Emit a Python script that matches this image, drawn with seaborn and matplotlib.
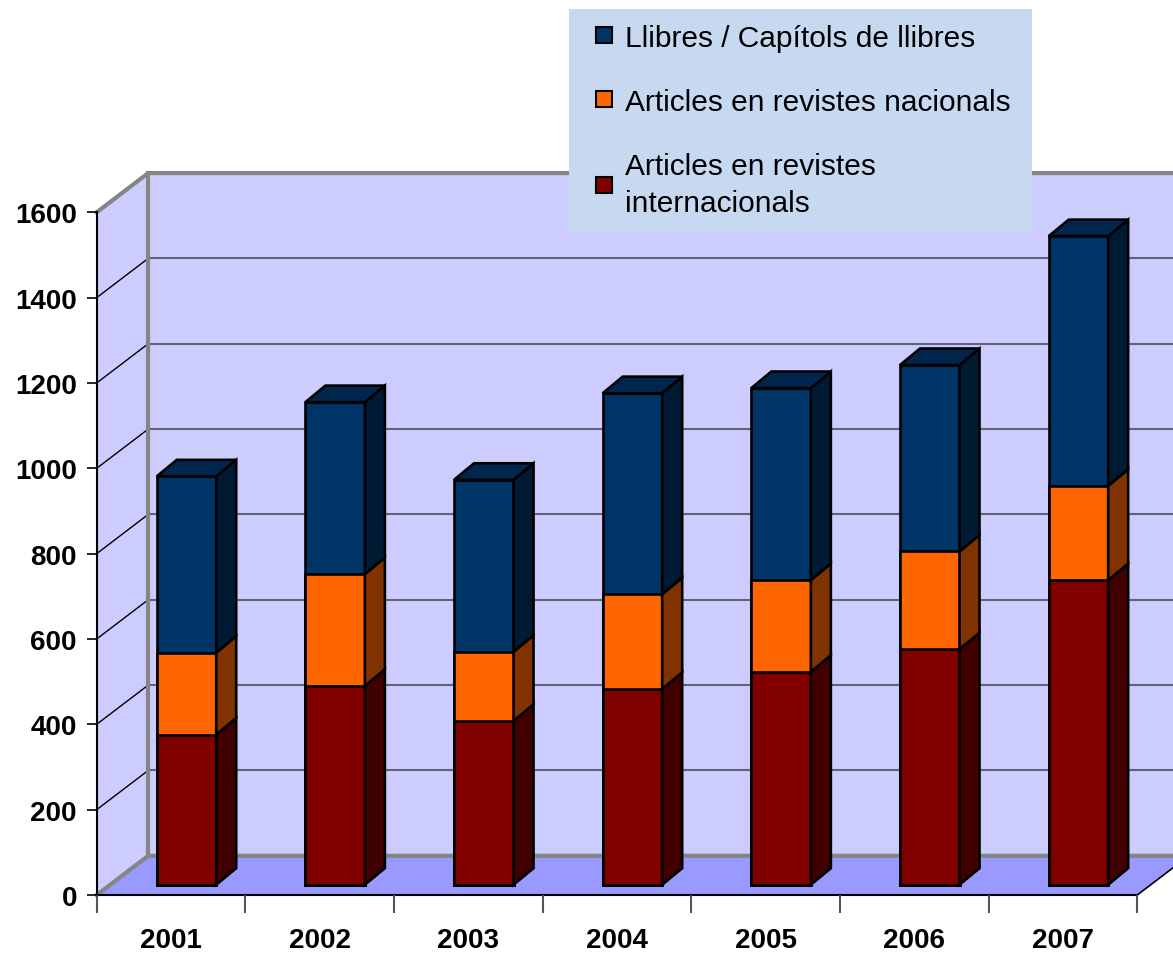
import numpy as np
import pandas as pd
import matplotlib
matplotlib.use("Agg")
import matplotlib.pyplot as plt
import seaborn as sns
from matplotlib.patches import Polygon
from matplotlib.lines import Line2D
from matplotlib.transforms import Affine2D

# ---------------- data ----------------
years = ["2001", "2002", "2003", "2004", "2005", "2006", "2007"]
internacionals = [352, 466, 384, 459, 499, 552, 714]
nacionals = [192, 262, 162, 222, 215, 229, 221]
llibres = [413, 403, 403, 471, 450, 437, 585]
legend_labels = ["Llibres / Capítols de llibres",
                 "Articles en revistes nacionals",
                 "Articles en revistes\ninternacionals"]
yticks = [0, 200, 400, 600, 800, 1000, 1200, 1400, 1600]

# ---------------- style ----------------
front_colors = ["#003366", "#FF6600", "#800000"]   # llibres, nacionals, internacionals
side_colors = ["#001A33", "#803300", "#400000"]
top_color = "#00264D"
wall_color = "#CCCCFF"
floor_color = "#9999FF"
border_gray = "#858585"
grid_color = "#62627A"

plt.rcParams["font.family"] = ["Liberation Sans", "DejaVu Sans"]

W, H = 1173, 954
fig = plt.figure(figsize=(W / 100, H / 100), dpi=100)
fig.patch.set_facecolor("white")
ax = fig.add_axes([96.7 / W, (H - 896) / H, 1040.6 / W, 682.7 / H])
ax.set_facecolor("none")

# projection parameters (data units)
DX, DY = 0.3464, 91.9          # full depth of the walls
SX, SY = 0.104, 24.1           # bar front plane offset
BX, BY = 0.1345, 38.7          # bar depth
BAR_W = 0.4

df = pd.DataFrame({"year": years, "intl": internacionals,
                   "nac": nacionals, "llib": llibres})
df["cum_nac"] = df["intl"] + df["nac"]
df["total"] = df["cum_nac"] + df["llib"]

shift_tr = Affine2D().translate(SX, SY) + ax.transData

layers = [("total", front_colors[0]), ("cum_nac", front_colors[1]), ("intl", front_colors[2])]
bar_layers = []
for col, c in layers:
    n0 = len(ax.patches)
    sns.barplot(data=df, x="year", y=col, color=c, saturation=1, width=BAR_W,
                edgecolor="black", linewidth=1.9, errorbar=None, ax=ax)
    bar_layers.append(list(ax.patches[n0:]))

for layer in bar_layers:
    for p in layer:
        p.set_transform(shift_tr)
        p.set_zorder(3)
        p.set_clip_on(False)

ax.set_xlim(-0.5, 6.5)
ax.set_ylim(0, 1600)
XL, XR = -0.5, 6.5
YT = yticks[-1]

# ---------------- walls / floor ----------------
ax.add_patch(Polygon([(XL, 0), (XL + DX, DY), (XL + DX, YT + DY), (XL, YT)],
                     closed=True, facecolor=wall_color, edgecolor="none",
                     zorder=0.2, clip_on=False))
ax.add_patch(Polygon([(XL + DX, DY), (XR + DX, DY), (XR + DX, YT + DY), (XL + DX, YT + DY)],
                     closed=True, facecolor=wall_color, edgecolor="none",
                     zorder=0.2, clip_on=False))
ax.add_patch(Polygon([(XL, 0), (XR, 0), (XR + DX, DY), (XL + DX, DY)],
                     closed=True, facecolor=floor_color, edgecolor="none",
                     zorder=0.3, clip_on=False))

for v in yticks[1:-1]:
    ax.plot([XL + DX, XR + DX], [v + DY, v + DY], color=grid_color, lw=1.5,
            zorder=0.5, clip_on=False, solid_capstyle="butt")
    ax.plot([XL, XL + DX], [v, v + DY], color="black", lw=1.0,
            zorder=0.5, clip_on=False)

# borders
ax.plot([XL, XL + DX, XR + DX + 1], [YT, YT + DY, YT + DY], color=border_gray, lw=3,
        zorder=0.6, clip_on=False, solid_joinstyle="miter")
ax.plot([XL + DX, XL + DX], [DY, YT + DY], color=border_gray, lw=3,
        zorder=0.6, clip_on=False)
ax.plot([XL, XL + DX, XR + DX], [0, DY, DY], color=border_gray, lw=3,
        zorder=0.6, clip_on=False, solid_joinstyle="miter")
ax.plot([XR, XR + DX], [0, DY], color="black", lw=1.2, zorder=0.6, clip_on=False)

# ---------------- bar sides and tops ----------------
bottoms = [np.zeros(len(years)), df["intl"].values, df["cum_nac"].values]
tops = [df["intl"].values, df["cum_nac"].values, df["total"].values]
seg_side = [side_colors[2], side_colors[1], side_colors[0]]
for i, p in enumerate(bar_layers[0]):
    x0 = p.get_x()
    x1 = x0 + p.get_width()
    for b, t, sc in zip(bottoms, tops, seg_side):
        y0, y1 = b[i], t[i]
        ax.add_patch(Polygon([(x1, y0), (x1 + BX, y0 + BY), (x1 + BX, y1 + BY), (x1, y1)],
                             closed=True, facecolor=sc, edgecolor="black", lw=1.9,
                             transform=shift_tr, zorder=3, clip_on=False))
    t = tops[2][i]
    ax.add_patch(Polygon([(x0, t), (x0 + BX, t + BY), (x1 + BX, t + BY), (x1, t)],
                         closed=True, facecolor=top_color, edgecolor="black", lw=1.9,
                         transform=shift_tr, zorder=3, clip_on=False))

# ---------------- axes, ticks ----------------
for s in ["top", "right"]:
    ax.spines[s].set_visible(False)
for s in ["left", "bottom"]:
    ax.spines[s].set_color("black")
    ax.spines[s].set_linewidth(1.5)
    ax.spines[s].set_zorder(0.8)

ax.set_xticks(range(len(years)), labels=years, fontsize=20, fontweight="bold")
ax.set_xticks(np.arange(-0.5, len(years), 1), minor=True)
ax.set_yticks(yticks, labels=[str(v) for v in yticks], fontsize=20, fontweight="bold")
ax.tick_params(axis="x", which="major", length=0, pad=23, bottom=True, labelcolor="black")
ax.tick_params(axis="x", which="minor", length=13, width=1.5, color="#555555",
               direction="out", bottom=True)
ax.tick_params(axis="y", which="major", length=7.2, width=1.2, color="black",
               direction="out", pad=7, left=True, labelcolor="black")
ax.set_xlabel("")
ax.set_ylabel("")

# ---------------- legend ----------------
handles = [Line2D([], [], marker="s", linestyle="none", markersize=12,
                  markerfacecolor=c, markeredgecolor="black", markeredgewidth=1.5)
           for c in front_colors]
leg = fig.legend(handles, legend_labels, loc="upper left",
                 bbox_to_anchor=(569 / W, 1 - 232 / H, (1032 - 569) / W, (232 - 10) / H),
                 bbox_transform=fig.transFigure, mode="expand",
                 frameon=True, facecolor="#C6D9F0", edgecolor="none", framealpha=1,
                 fancybox=False, fontsize=21.5, handlelength=1.37, handletextpad=0.0,
                 labelspacing=1.2, borderpad=0.5, borderaxespad=0)
leg.get_frame().set_linewidth(0)
for t in leg.get_texts():
    t.set_linespacing(1.42)
    t.set_color("black")

fig.savefig("out.png", dpi=100)
